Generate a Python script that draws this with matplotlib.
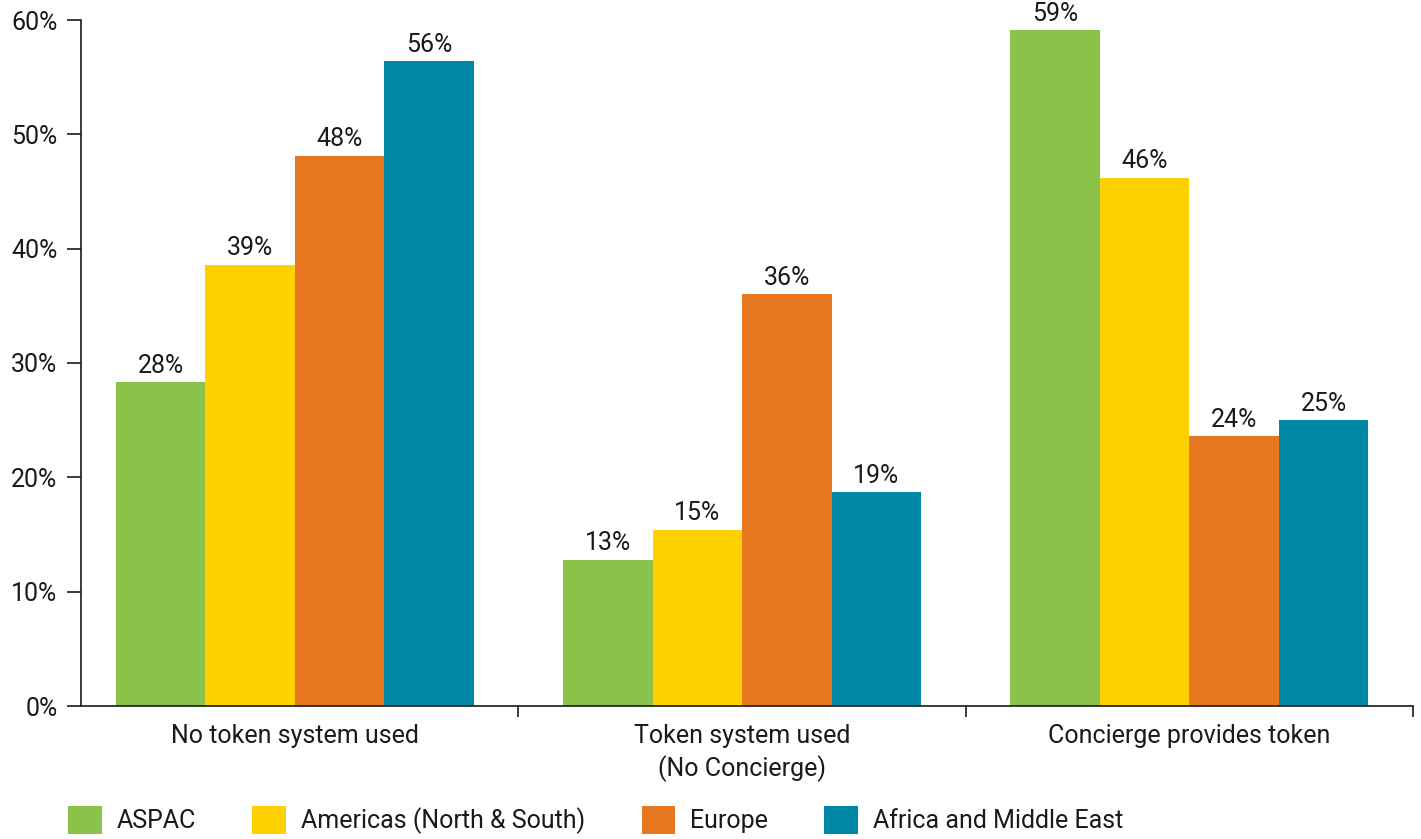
import numpy as np
import matplotlib
matplotlib.use("Agg")
import matplotlib.pyplot as plt

plt.rcParams['font.family'] = ['Roboto', 'DejaVu Sans']

categories = ["No token system used", "Token system used\n(No Concierge)", "Concierge provides token"]
regions = ["ASPAC", "Americas (North & South)", "Europe", "Africa and Middle East"]
colors = ["#8BC34A", "#FFD100", "#E87722", "#0089A7"]
values = {
    "ASPAC": [28.3, 12.8, 59.1],
    "Americas (North & South)": [38.6, 15.4, 46.2],
    "Europe": [48.1, 36.0, 23.6],
    "Africa and Middle East": [56.4, 18.7, 25.0],
}
yticks = [0, 10, 20, 30, 40, 50, 60]

FS = 18
TXT = '#1a1a1a'

fig = plt.figure(figsize=(14.21, 8.39), dpi=100)
ax = fig.add_axes([81/1421, 1-706/839, (1413-81)/1421, (706-20)/839])

x = np.arange(len(categories)) + 0.5
w = 0.2
for i, (r, c) in enumerate(zip(regions, colors)):
    v = values[r]
    bars = ax.bar(x + (i - 1.5) * w, v, w, color=c, label=r, zorder=2)
    for b, val in zip(bars, v):
        ax.text(b.get_x() + b.get_width()/2, val + 0.4, f"{val:.0f}%",
                ha='center', va='bottom', fontsize=FS, color=TXT)

# y axis sits slightly inside the first category band
ax.set_xlim(0.022, 3)
ax.set_ylim(0, 60)
ax.set_xticks([1, 2, 3])
ax.set_xticklabels([])
ax.set_xticks(x, minor=True)
ax.set_xticklabels(categories, minor=True, fontsize=FS, color=TXT, linespacing=1.35)
ax.tick_params(axis='x', which='minor', length=0, pad=13)
ax.tick_params(axis='x', which='major', length=8, width=1.2, direction='out', color=TXT)
ax.set_yticks(yticks)
ax.set_yticklabels([f"{t}%" for t in yticks], fontsize=FS, color=TXT)
ax.tick_params(axis='y', length=10, width=1.2, direction='out', pad=7, color=TXT)

for s in ['top', 'right']:
    ax.spines[s].set_visible(False)
for s in ['left', 'bottom']:
    ax.spines[s].set_linewidth(1.2)
    ax.spines[s].set_color(TXT)

leg = fig.legend(loc='center left', bbox_to_anchor=(68/1421, 1-820/839), ncol=4, frameon=False,
                 handlelength=1.35, handleheight=1.35, handletextpad=0.6,
                 columnspacing=2.25, borderpad=0, borderaxespad=0,
                 prop={'family': ['Roboto', 'DejaVu Sans'], 'size': FS})
for t in leg.get_texts():
    t.set_color(TXT)

fig.savefig("out.png", dpi=100)
